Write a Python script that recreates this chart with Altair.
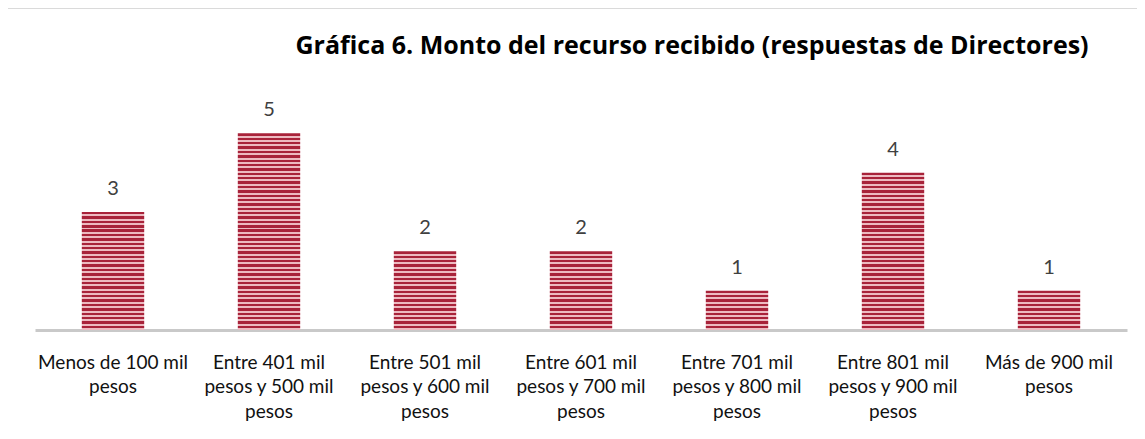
import altair as alt
import pandas as pd

categories = [
    "Menos de 100 mil|pesos",
    "Entre 401 mil|pesos y 500 mil|pesos",
    "Entre 501 mil|pesos y 600 mil|pesos",
    "Entre 601 mil|pesos y 700 mil|pesos",
    "Entre 701 mil|pesos y 800 mil|pesos",
    "Entre 801 mil|pesos y 900 mil|pesos",
    "Más de 900 mil|pesos",
]
counts = [3, 5, 2, 2, 1, 4, 1]
title_text = "Gráfica 6. Monto del recurso recibido (respuestas de Directores)"

df = pd.DataFrame({"cat": categories, "n": counts})

DARK = "#A8233A"
LIGHT = "#EDBAC1"
STRIPES_PER_UNIT = 9
FONT = "Lato"


def striped(units):
    n = units * STRIPES_PER_UNIT
    stops = []
    for i in range(n):
        a = round(i / n, 5)
        b = round((i + 0.55) / n, 5)
        c = round((i + 1) / n, 5)
        stops += [
            alt.GradientStop(offset=a, color=DARK),
            alt.GradientStop(offset=b, color=DARK),
            alt.GradientStop(offset=b, color=LIGHT),
            alt.GradientStop(offset=c, color=LIGHT),
        ]
    return alt.Gradient(gradient="linear", stops=stops, x1=0, x2=0, y1=0, y2=1)


x_enc = alt.X(
    "cat:N",
    sort=categories,
    scale=alt.Scale(paddingInner=0.6, paddingOuter=0.3),
    axis=alt.Axis(
        title=None,
        labelAngle=0,
        labelExpr="split(datum.label, '|')",
        labelFont=FONT,
        labelFontSize=19,
        labelLineHeight=24.5,
        labelColor="#111111",
        labelPadding=38,
        labelBaseline="alphabetic",
        labelOverlap=False,
        labelLimit=400,
        ticks=False,
        tickSize=0,
        domainColor="#C9C9C9",
        domainWidth=3,
        grid=False,
    ),
)
y_enc = alt.Y("n:Q", scale=alt.Scale(domain=[0, 6]), axis=None)

base = alt.Chart(df)

layers = []
for v in sorted(set(counts)):
    layers.append(
        base.transform_filter(alt.datum.n == v)
        .mark_bar(fill=striped(v), strokeWidth=0)
        .encode(x=x_enc, y=y_enc)
    )

labels = base.mark_text(
    font=FONT, fontSize=20, color="#404040", baseline="alphabetic", dy=-17
).encode(x=x_enc, y=y_enc, text="n:Q")

frame_df = pd.DataFrame({"k": [0]})
top_line = alt.Chart(frame_df).mark_rule(color="#DADADA", strokeWidth=2).encode(
    x=alt.value(-28), x2=alt.value(1102), y=alt.value(-86)
)
left_line = alt.Chart(frame_df).mark_rule(color="#DADADA", strokeWidth=2).encode(
    x=alt.value(-28), y=alt.value(-86), y2=alt.value(345)
)

title_df = pd.DataFrame({"t": [title_text]})
title = alt.Chart(title_df).mark_text(
    font="Open Sans", fontSize=25, fontWeight="bold", color="#000000",
    align="center", baseline="alphabetic"
).encode(text="t:N", x=alt.value(657), y=alt.value(-40))

chart = alt.layer(*layers, labels, top_line, left_line, title).properties(
    width=1092,
    height=236,
    padding={"left": 27, "top": 86, "right": 10, "bottom": 101},
    autosize="none",
    background="#FFFFFF",
).configure_view(stroke="transparent", strokeWidth=0)

chart.save("out.html", embed_options={"renderer": "svg", "actions": False})
